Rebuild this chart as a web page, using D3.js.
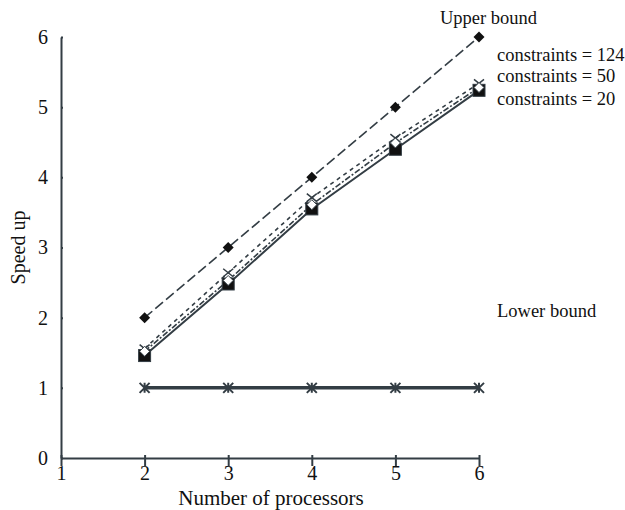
<!DOCTYPE html>
<html>
<head>
<meta charset="utf-8">
<script src="https://cdnjs.cloudflare.com/ajax/libs/d3/7.8.5/d3.min.js"></script>
<style>
body { margin: 0; background: #fff; }
.axis path, .axis line { stroke: #333d44; stroke-width: 2; }
</style>
</head>
<body>
<div id="chart"></div>
<script>
var processors = [2, 3, 4, 5, 6];
var upperBound = [2, 3, 4, 5, 6];
var c124 = [1.56, 2.64, 3.71, 4.56, 5.34];
var c50 = [1.52, 2.53, 3.61, 4.49, 5.28];
var c20 = [1.46, 2.48, 3.55, 4.40, 5.24];
var lowerBound = [1, 1, 1, 1, 1];
var xTicks = [1, 2, 3, 4, 5, 6];
var yTicks = [0, 1, 2, 3, 4, 5, 6];

var FONT = "'Liberation Serif', 'Times New Roman', 'DejaVu Serif', serif";
var width = 625, height = 510;
var margin = {top: 37, right: 146, bottom: 52, left: 61};
var ink = "#333d44";

var svg = d3.select("#chart")
	.append("svg")
	.attr("width", width)
	.attr("height", height)
	.style("font-family", FONT);

var xScale = d3.scaleLinear().domain([1, 6]).range([margin.left, width - margin.right]);
var yScale = d3.scaleLinear().domain([0, 6]).range([height - margin.bottom, margin.top]);

function styleTicks(g) {
	g.attr("font-family", FONT).attr("font-size", 20);
	g.selectAll(".tick text").attr("fill", "#111");
}

svg.append("g")
	.attr("class", "axis")
	.attr("transform", "translate(0," + yScale(0) + ")")
	.call(d3.axisBottom(xScale).tickValues(xTicks).tickSize(7).tickSizeOuter(0).tickFormat(d3.format("d")))
	.call(styleTicks)
	.call(function(g) { g.selectAll(".tick line").attr("y1", -3).attr("y2", 8); g.selectAll(".tick text").attr("y", 8); });

svg.append("g")
	.attr("class", "axis")
	.attr("transform", "translate(" + xScale(1) + ",0)")
	.call(d3.axisLeft(yScale).tickValues(yTicks).tickSize(10).tickSizeOuter(0).tickFormat(d3.format("d")))
	.call(styleTicks)
	.call(function(g) { g.selectAll(".tick line").attr("x2", 2); g.selectAll(".tick text").attr("x", -13); });

svg.append("text")
	.attr("x", 271)
	.attr("y", 505)
	.attr("text-anchor", "middle")
	.attr("fill", "#111")
	.style("font-size", "21px")
	.text("Number of processors");

svg.append("text")
	.attr("transform", "translate(25," + yScale(3) + ") rotate(-90)")
	.attr("text-anchor", "middle")
	.attr("fill", "#111")
	.style("font-size", "20px")
	.text("Speed up");

var line = d3.line()
	.x(function(d, i) { return xScale(processors[i]); })
	.y(function(d) { return yScale(d); });

function drawLine(values, dash, w) {
	svg.append("path")
		.datum(values)
		.attr("d", line)
		.attr("fill", "none")
		.attr("stroke", ink)
		.attr("stroke-width", w)
		.attr("stroke-dasharray", dash);
}

drawLine(upperBound, "10,4", 1.6);
drawLine(c124, "4,4", 1.6);
drawLine(c50, "6,2,2,2", 1.6);
drawLine(c20, null, 2);
drawLine(lowerBound, null, 3.5);

function points(values) {
	return values.map(function(v, i) { return [xScale(processors[i]), yScale(v)]; });
}

// lower bound asterisks
svg.selectAll(".star")
	.data(points(lowerBound))
	.enter()
	.append("path")
	.attr("d", function(d) {
		var s = 5;
		return "M" + (d[0] - s) + "," + (d[1] - s) + "L" + (d[0] + s) + "," + (d[1] + s) +
			"M" + (d[0] - s) + "," + (d[1] + s) + "L" + (d[0] + s) + "," + (d[1] - s) +
			"M" + d[0] + "," + (d[1] - s) + "L" + d[0] + "," + (d[1] + s);
	})
	.attr("stroke", ink)
	.attr("stroke-width", 2);

// constraints = 124 crosses
svg.selectAll(".cross")
	.data(points(c124))
	.enter()
	.append("path")
	.attr("d", function(d) {
		var s = 5;
		return "M" + (d[0] - s) + "," + (d[1] - s + 1) + "L" + (d[0] + s) + "," + (d[1] + s - 1) +
			"M" + (d[0] - s) + "," + (d[1] + s - 1) + "L" + (d[0] + s) + "," + (d[1] - s + 1);
	})
	.attr("stroke", ink)
	.attr("stroke-width", 1.5);

// constraints = 20 squares
svg.selectAll(".square")
	.data(points(c20))
	.enter()
	.append("rect")
	.attr("x", function(d) { return d[0] - 6; })
	.attr("y", function(d) { return d[1] - 6; })
	.attr("width", 12)
	.attr("height", 12)
	.attr("fill", "#111")
	.attr("stroke", ink);

// constraints = 50 open diamonds
svg.selectAll(".diamond")
	.data(points(c50))
	.enter()
	.append("path")
	.attr("d", function(d) { return "M" + d[0] + "," + (d[1] - 5) + "L" + (d[0] + 5) + "," + d[1] + "L" + d[0] + "," + (d[1] + 5) + "L" + (d[0] - 5) + "," + d[1] + "Z"; })
	.attr("fill", "#fff")
	.attr("stroke", ink)
	.attr("stroke-width", 1);

// upper bound diamonds
svg.selectAll(".ubDiamond")
	.data(points(upperBound))
	.enter()
	.append("path")
	.attr("d", function(d) { return "M" + d[0] + "," + (d[1] - 5.5) + "L" + (d[0] + 5.5) + "," + d[1] + "L" + d[0] + "," + (d[1] + 5.5) + "L" + (d[0] - 5.5) + "," + d[1] + "Z"; })
	.attr("fill", "#111");

var labels = [
	{text: "Upper bound", x: 440, y: 24},
	{text: "constraints = 124", x: 497, y: 61},
	{text: "constraints = 50", x: 497, y: 82},
	{text: "constraints = 20", x: 497, y: 105},
	{text: "Lower bound", x: 497, y: 317}
];

svg.selectAll(".lbl")
	.data(labels)
	.enter()
	.append("text")
	.attr("x", function(d) { return d.x; })
	.attr("y", function(d) { return d.y; })
	.attr("fill", "#111")
	.style("font-size", "18.5px")
	.text(function(d) { return d.text; });
</script>
</body>
</html>
